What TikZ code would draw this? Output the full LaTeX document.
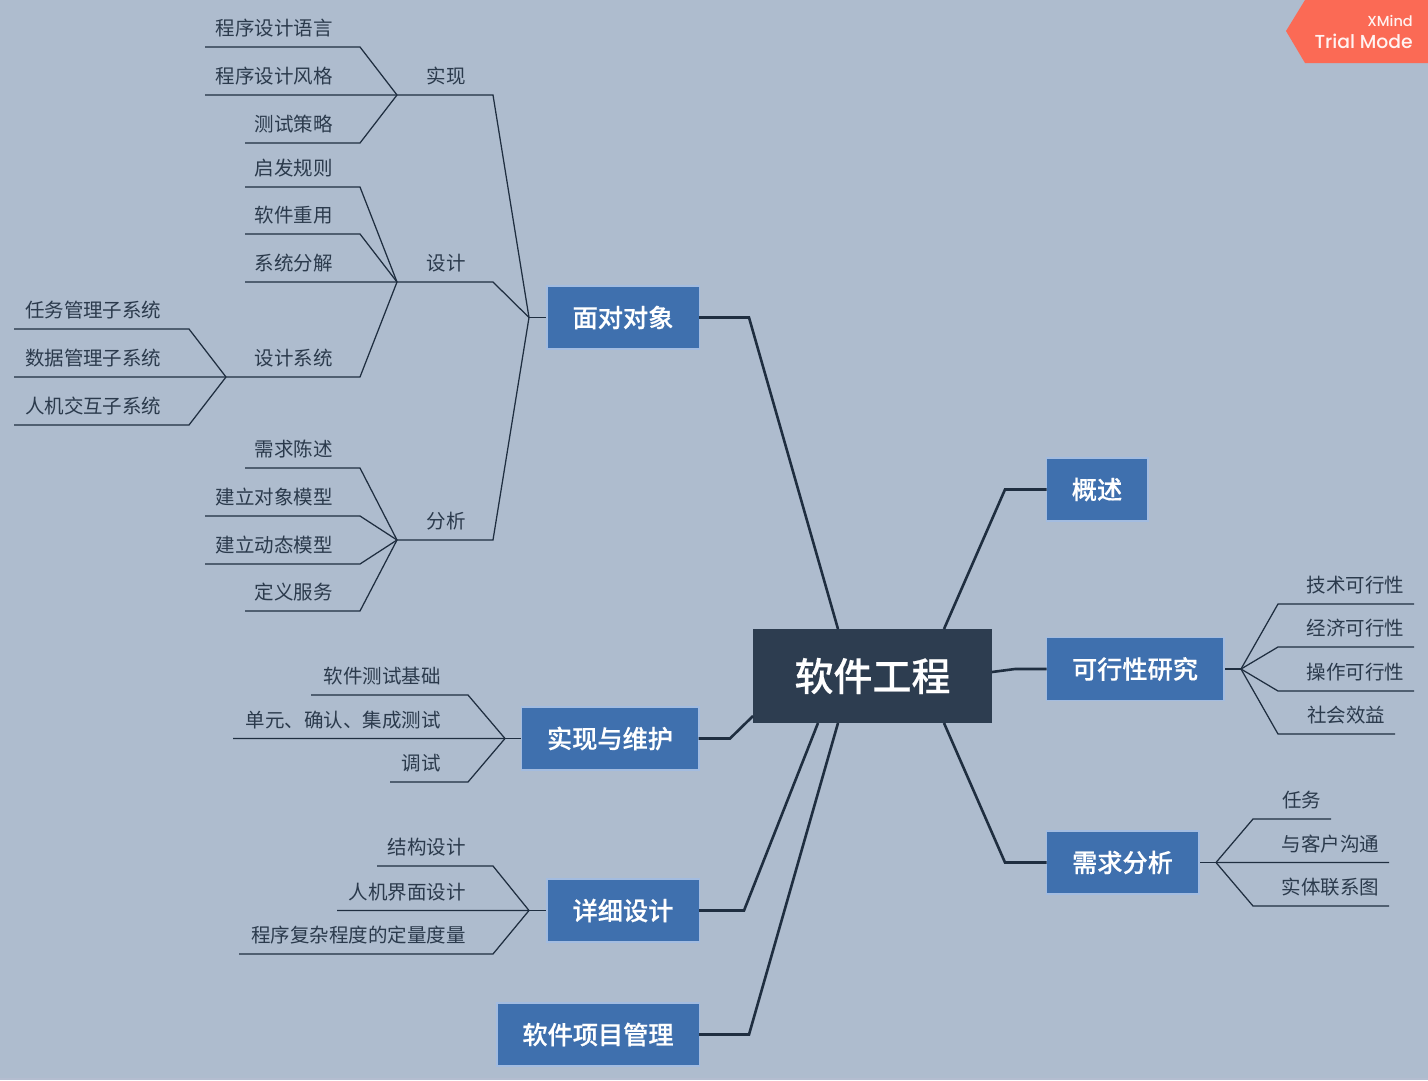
\documentclass[tikz,border=0pt]{standalone}
\usepackage{fontspec}
\setmainfont{Noto Sans CJK SC}
\newfontfamily\medfont[FakeBold=0.35]{Noto Sans CJK SC Medium}
\newfontfamily\badgefont{Poppins Medium}
\definecolor{bgc}{HTML}{AEBCCE}
\definecolor{boxc}{HTML}{3F70AE}
\definecolor{boxedge}{HTML}{A3BCE0}
\definecolor{rootc}{HTML}{2D3D50}
\definecolor{linec}{HTML}{1F2E40}
\definecolor{leafc}{HTML}{2B3A4C}
\definecolor{badgec}{HTML}{FB6A55}
\definecolor{stripc}{HTML}{B4BDD0}
\newcommand{\leafL}[6]{%
  \node[leaf,anchor=south west] (#1) at (#2,#4) {\makebox[\dimexpr#3pt-#2pt\relax][r]{\rule[-11.5pt]{0pt}{30pt}#5\hspace{27.5pt}}};
  \draw[thinline] (#1.south west) -- (#1.south east) -- (#6);}
\newcommand{\leafR}[6]{%
  \node[leaf,anchor=south west] (#1) at (#2,#4) {\makebox[\dimexpr#3pt-#2pt\relax][r]{\rule[-11.5pt]{0pt}{30pt}#5\hspace{9.8pt}}};
  \draw[thinline] (#1.south east) -- (#1.south west) -- (#6);}
\tikzset{
  leaf/.style={inner sep=0pt,outer sep=0pt,text=leafc,font=\fontsize{19.5pt}{22pt}\selectfont},
  thinline/.style={draw=linec,line width=1.25pt},
  mainline/.style={draw=linec,line width=2.6pt,line join=miter,shorten <=-1pt},
  topic/.style={fill=boxc,draw=boxedge,line width=1.5pt,inner sep=0pt,text=white,minimum height=63pt,font=\fontsize{25.2pt}{28pt}\medfont},
  rootbox/.style={fill=rootc,inner sep=0pt,text=white,minimum width=239pt,minimum height=94pt,font=\fontsize{39pt}{42pt}\medfont}
}
\begin{document}
\begin{tikzpicture}[x=1pt,y=-1pt]
\useasboundingbox (0,0) rectangle (1428,1080);
\fill[bgc] (0,0) rectangle (1428,1080);
\fill[stripc] (0,1077.5) rectangle (1428,1080);
% trial badge
\fill[badgec] (1305,0) -- (1286,31) -- (1305,63) -- (1428,63) -- (1428,0) -- cycle;
\node[inner sep=0pt,anchor=east,text=white!92!badgec,font=\badgefont\fontsize{14.5pt}{15pt}\selectfont] (xm) at (1413,21) {XMind};
\node[inner sep=0pt,anchor=east,text=white!92!badgec,font=\badgefont\fontsize{18.8pt}{20pt}\selectfont] (tm) at (1413,41) {Trial Mode};
% boxes
\node[rootbox] (root) at (872.5,676) {软件工程};
\node[topic,minimum width=152.5pt] (oo) at (623,317.5) {面对对象};
\node[topic,minimum width=177.5pt] (impl) at (610,738.5) {实现与维护};
\node[topic,minimum width=152.5pt] (detail) at (623,910.5) {详细设计};
\node[topic,minimum width=202.5pt] (pm) at (598,1034.5) {软件项目管理};
\node[topic,minimum width=101.5pt] (ov) at (1097,489.5) {概述};
\node[topic,minimum width=177.5pt] (fe) at (1135,669) {可行性研究};
\node[topic,minimum width=152.5pt] (req) at (1122.5,862.5) {需求分析};
% main connectors
\coordinate (b1) at (749,317.5); \coordinate (r1) at (838,629);
\coordinate (b2) at (730,738.5); \coordinate (r2) at (753,716);
\coordinate (b3) at (744,910.5); \coordinate (r3) at (818,723);
\coordinate (b4) at (749,1034.5);\coordinate (r4) at (838,723);
\coordinate (b5) at (1005,489.5);\coordinate (r5) at (944,629);
\coordinate (b6) at (1015,669);  \coordinate (r6) at (992,672);
\coordinate (b7) at (1005,862.5);\coordinate (r7) at (944,723);
\draw[mainline] (oo.east) -- (b1) -- (r1);
\draw[mainline] (impl.east) -- (b2) -- (r2);
\draw[mainline] (detail.east) -- (b3) -- (r3);
\draw[mainline] (pm.east) -- (b4) -- (r4);
\draw[mainline] (ov.west) -- (b5) -- (r5);
\draw[mainline] (fe.west) -- (b6) -- (r6);
\draw[mainline] (req.west) -- (b7) -- (r7);
% hubs
\coordinate (hoo) at (529,317.5);
\coordinate (himpl) at (505,738.5);
\coordinate (hdet) at (529,910.5);
\coordinate (hfe) at (1241,669);
\coordinate (hreq) at (1216,862.5);
\draw[thinline] (hoo) -- (oo.west);
\draw[thinline] (himpl) -- (impl.west);
\draw[thinline] (hdet) -- (detail.west);
\draw[thinline] (hfe) -- (fe.east);
\draw[thinline] (hreq) -- (req.east);
% object-oriented branch
\leafL{a}{397}{493}{95}{实现}{hoo}
\leafL{a1}{205}{360}{47}{程序设计语言}{a.south west}
\leafL{a2}{205}{360}{95.06}{程序设计风格}{a.south west}
\leafL{a3}{245}{360}{143}{测试策略}{a.south west}
\leafL{d}{397}{493}{282}{设计}{hoo}
\leafL{d1}{245}{360}{187}{启发规则}{d.south west}
\leafL{d2}{245}{360}{234}{软件重用}{d.south west}
\leafL{d3}{245}{360}{282.06}{系统分解}{d.south west}
\leafL{d4}{226}{360}{377}{设计系统}{d.south west}
\leafL{s1}{14}{189}{329}{任务管理子系统}{d4.south west}
\leafL{s2}{14}{189}{377.06}{数据管理子系统}{d4.south west}
\leafL{s3}{14}{189}{425}{人机交互子系统}{d4.south west}
\leafL{n}{397}{493}{540}{分析}{hoo}
\leafL{n1}{245}{360}{468}{需求陈述}{n.south west}
\leafL{n2}{205}{360}{516}{建立对象模型}{n.south west}
\leafL{n3}{205}{360}{564}{建立动态模型}{n.south west}
\leafL{n4}{245}{360}{611}{定义服务}{n.south west}
% implementation branch
\leafL{i1}{311}{468}{695}{软件测试基础}{himpl}
\leafL{i2}{233}{468}{738.56}{单元、确认、集成测试}{himpl}
\leafL{i3}{390}{468}{782}{调试}{himpl}
% detail design branch
\leafL{t1}{377}{493}{866}{结构设计}{hdet}
\leafL{t2}{337}{493}{910.56}{人机界面设计}{hdet}
\leafL{t3}{239}{493}{954}{程序复杂程度的定量度量}{hdet}
% feasibility branch
\leafR{f1}{1278}{1414}{604}{技术可行性}{hfe}
\leafR{f2}{1278}{1414}{647}{经济可行性}{hfe}
\leafR{f3}{1278}{1414}{691}{操作可行性}{hfe}
\leafR{f4}{1278}{1395}{734}{社会效益}{hfe}
% requirements branch
\leafR{q1}{1253}{1331}{819}{任务}{hreq}
\leafR{q2}{1253}{1389}{862.56}{与客户沟通}{hreq}
\leafR{q3}{1253}{1389}{906}{实体联系图}{hreq}
\end{tikzpicture}
\end{document}
